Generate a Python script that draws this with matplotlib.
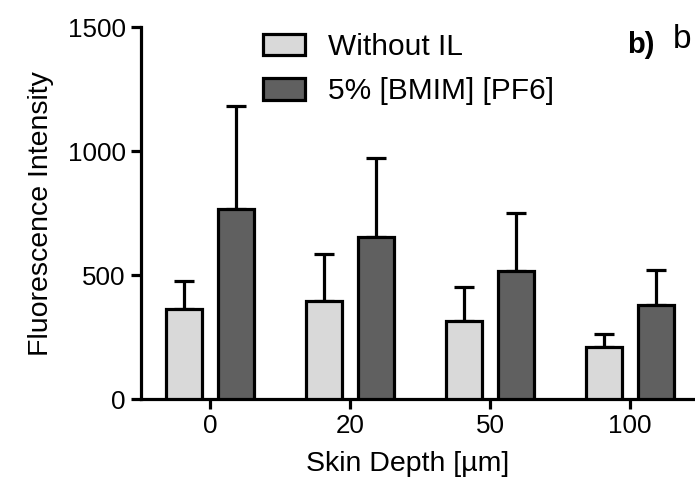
import numpy as np
import matplotlib
matplotlib.use("Agg")
import matplotlib.pyplot as plt

plt.rcParams['font.family'] = ['Liberation Sans', 'DejaVu Sans']

# Daten
depths = ['0', '20', '50', '100']
without_il = [363, 395, 315, 210]
without_il_err = [113, 190, 137, 52]
bmim = [766, 653, 516, 379]
bmim_err = [415, 319, 234, 141]

light = '#d9d9d9'
dark = '#606060'
lw = 2.3

fig = plt.figure(figsize=(6.95, 4.86), dpi=100)
ax = fig.add_axes([0.203, 0.179, 0.797, 0.765])

x = np.arange(len(depths))
w = 0.257
off = 0.186

ax.bar(x - off, without_il, w, color=light, edgecolor='black', linewidth=lw,
       label='Without IL', zorder=3)
ax.bar(x + off, bmim, w, color=dark, edgecolor='black', linewidth=lw,
       label='5% [BMIM] [PF6]', zorder=3)
ax.errorbar(x - off, without_il, yerr=[np.zeros(4), without_il_err], fmt='none',
            ecolor='black', elinewidth=lw, capsize=7, capthick=lw, zorder=2)
ax.errorbar(x + off, bmim, yerr=[np.zeros(4), bmim_err], fmt='none',
            ecolor='black', elinewidth=lw, capsize=7, capthick=lw, zorder=2)

ax.set_xlim(-0.493, 3.464)
ax.set_ylim(0, 1500)
ax.set_yticks([0, 500, 1000, 1500])
ax.set_xticks(x)
ax.set_xticklabels(depths)

for s in ['top', 'right']:
    ax.spines[s].set_visible(False)
for s in ['left', 'bottom']:
    ax.spines[s].set_linewidth(lw)
ax.tick_params(width=lw, length=7, labelsize=18.7, pad=4)

ax.set_ylabel('Fluorescence Intensity', fontsize=20.5, labelpad=10)
ax.set_xlabel('Skin Depth [µm]', fontsize=20.5, labelpad=8)
ax.xaxis.set_label_coords(0.482, -0.14)

leg = ax.legend(loc='upper left', bbox_to_anchor=(263 / 695, 1 - 33 / 486),
                bbox_transform=fig.transFigure, frameon=False, fontsize=21.5,
                handlelength=1.4, handleheight=0.74, handletextpad=0.77,
                labelspacing=0.55, borderaxespad=0, borderpad=0)

fig.text(627 / 695, 1 - 45 / 486, 'b)', fontsize=21, fontweight='bold', va='center')
fig.text(673 / 695, 1 - 39 / 486, 'b', fontsize=24, va='center')

fig.savefig('out.png', dpi=100)
